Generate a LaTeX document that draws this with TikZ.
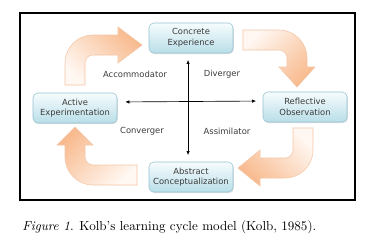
\documentclass[tikz,border=0pt]{standalone}
\usepackage{fontspec}
\newfontfamily\kolbsans{DejaVu Sans}
\usetikzlibrary{arrows.meta,shadows}
\definecolor{kolbink}{RGB}{60,60,60}
\definecolor{kolbedge}{RGB}{150,195,210}
\definecolor{kolbtop}{RGB}{246,252,253}
\definecolor{kolbbot}{RGB}{185,222,232}
\definecolor{cycorange}{RGB}{248,186,142}
\definecolor{cyctail}{RGB}{255,247,241}
\definecolor{cycedge}{RGB}{244,198,166}

% bent block arrow: corner, rotation, tail, head base, tip, shading angle
\newcommand{\cyclearrow}[6]{%
  \begin{scope}[shift={#1}, rotate=#2]
    \path[cyc, shading angle=#6]
      (0,#3) -- (0,28) arc[start angle=180, end angle=270, radius=28]
      -- (#4,0) -- (#4,-8) -- (#5,10) -- (#4,28) -- (#4,20)
      -- (28,20) arc[start angle=270, end angle=180, radius=8]
      -- (20,#3) -- cycle;
  \end{scope}}

\begin{document}
\begin{tikzpicture}[
  x=0.75pt, y=-0.75pt,
  stage/.style={draw=kolbedge, rounded corners=3.5pt, top color=kolbtop, bottom color=kolbbot,
    minimum width=63pt, minimum height=22.5pt, align=center, inner sep=1pt, text=kolbink,
    font=\kolbsans\fontsize{6.3}{7.9}\selectfont,
    drop shadow={shadow xshift=0.6pt, shadow yshift=-0.8pt, opacity=0.25}},
  style/.style={text=kolbink, font=\kolbsans\fontsize{6.3}{7.9}\selectfont},
  cyc/.style={draw=cycedge, line width=0.4pt, top color=cycorange, bottom color=cyctail},
  axisarr/.style={{Latex[length=3pt,width=2.6pt]}-{Latex[length=3pt,width=2.6pt]}, line width=0.5pt, black}
]
\useasboundingbox (0,0) rectangle (375,248);
\fill[white] (0,0) rectangle (375,248);
\draw[black, line width=0.8pt] (20,13) rectangle (355,200);

% cycle arrows
\cyclearrow{(65,35)}{0}{50}{53}{77}{-45}
\cyclearrow{(307,30)}{-90}{64}{37}{57}{-135}
\cyclearrow{(313,178)}{180}{50}{53}{75}{135}
\cyclearrow{(65,185)}{90}{72}{40}{58}{45}

% learning stages
\node[stage] (ce) at (191,38) {Concrete\\Experience};
\node[stage] (ro) at (305,107) {Reflective\\Observation};
\node[stage] (ae) at (75,108) {Active\\Experimentation};
\node[stage] (ac) at (191,177) {Abstract\\Conceptualization};

% axes
\draw[axisarr, shorten <=5pt, shorten >=5pt] ([xshift=-2.2pt]ce.south) -- ([xshift=-2.2pt]ac.north);
\draw[axisarr, shorten <=6pt, shorten >=5pt] ([yshift=4.5pt]ae.east) -- ([yshift=4.5pt]ro.west);

% learning styles
\node[style] (acc) at (135,74) {Accommodator};
\node[style] (div) at (222,74) {Diverger};
\node[style] (con) at (142,131) {Converger};
\node[style] (ass) at (227,131) {Assimilator};

\node[anchor=base west, inner sep=0pt, font=\fontsize{9.8}{12}\selectfont] (cap) at (22,230)
  {\textit{Figure 1}. Kolb's learning cycle model (Kolb, 1985).};
\end{tikzpicture}
\end{document}
